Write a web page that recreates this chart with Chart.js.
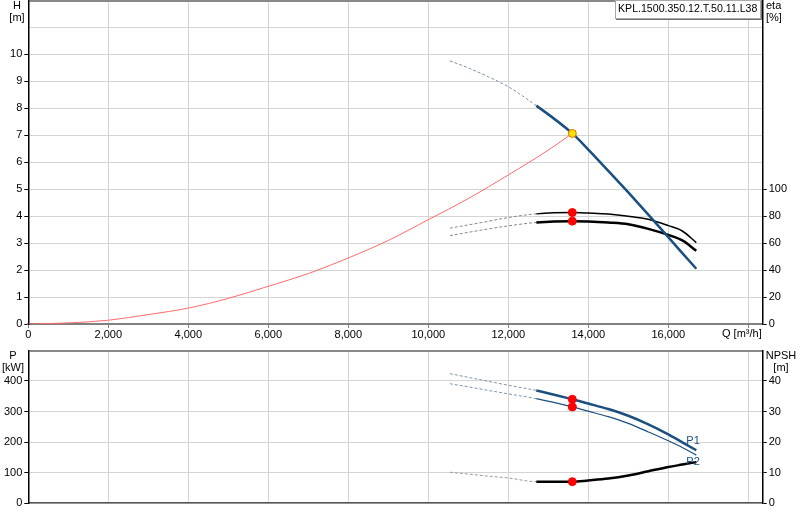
<!DOCTYPE html>
<html>
<head>
<meta charset="utf-8">
<script src="https://cdn.jsdelivr.net/npm/chart.js"></script>
<style>
  body { margin: 0; background: #fff; }
  canvas { position: absolute; left: 0; }
  #topChart { top: 0; }
  #bottomChart { top: 345px; }
</style>
</head>
<body>
<canvas id="topChart" width="800" height="345"></canvas>
<canvas id="bottomChart" width="800" height="175"></canvas>
<script>
    // flow points shared by the pump curves (m3/h)
    var qPump = [10540, 11000, 11500, 12000, 12700, 13600, 14000, 14500, 15000, 15500, 16000, 16350, 16700];
    var head = [9.76, 9.50, 9.17, 8.80, 8.10, 7.07, 6.47, 5.68, 4.88, 4.06, 3.22, 2.63, 2.05];
    var etaUpper = [71.1, 73.5, 76.2, 79.0, 81.7, 82.7, 82.3, 81.6, 80.0, 77.7, 73.0, 69.0, 60.4];
    var etaLower = [65.6, 68.0, 70.5, 72.8, 75.3, 76.3, 76.1, 75.3, 74.0, 70.6, 66.1, 62.0, 54.3];
    var powerP1 = [424, 412, 399, 386, 369, 340, 326, 308, 286, 258, 225, 199, 173];
    var powerP2 = [391, 381, 369, 358, 342, 315, 301, 283, 261, 233, 204, 182, 157];
    var npsh = [10.1, 9.5, 8.8, 8.2, 7.0, 7.0, 7.4, 8.0, 9.0, 10.4, 11.8, 12.6, 13.4];

    // system curve
    var qSystem = [0, 1000, 2000, 3000, 4000, 5000, 6000, 7000, 8000, 9000, 10000, 11000, 12000, 13000, 13600];
    var hSystem = [0, 0.04, 0.14, 0.35, 0.59, 0.95, 1.40, 1.87, 2.45, 3.10, 3.87, 4.65, 5.53, 6.45, 7.07];

    // duty point
    var qDuty = 13600;
    var dutyHead = 7.07;
    var dutyEta = [82.7, 76.3];
    var dutyPower = [340, 315];
    var dutyNpsh = 7.0;

    var xTicks = [0, 2000, 4000, 6000, 8000, 10000, 12000, 14000, 16000, 18000];
    var pumpName = 'KPL.1500.350.12.T.50.11.L38';

    var FONT = '"Liberation Sans", Arial, sans-serif';
    var solidFrom = 12700;
    var qMax = 18360;

    Chart.defaults.font.family = FONT;
    Chart.defaults.font.size = 11;
    Chart.defaults.color = '#000';

    function pts(xs, ys) {
        return xs.map(function (x, i) { return { x: x, y: ys[i] }; });
    }

    function curve(ys, axis, color, width, dashColor) {
        return {
            data: pts(qPump, ys),
            yAxisID: axis,
            borderColor: color,
            borderWidth: width,
            pointRadius: 0,
            showLine: true,
            cubicInterpolationMode: 'monotone',
            segment: {
                borderDash: function (c) { return c.p1.parsed.x <= solidFrom ? [3, 2] : undefined; },
                borderWidth: function (c) { return c.p1.parsed.x <= solidFrom ? 1 : width; },
                borderColor: function (c) { return c.p1.parsed.x <= solidFrom ? dashColor : color; }
            }
        };
    }

    function dot(y, axis, fill, border) {
        return {
            data: [{ x: qDuty, y: y }],
            yAxisID: axis,
            pointRadius: 4,
            pointBackgroundColor: fill,
            pointBorderColor: border || fill,
            pointBorderWidth: 1,
            showLine: false
        };
    }

    // fixed axis sizes, no extra padding for half labels
    function fixWidth(w) {
        return function (s) { s.width = w; s.paddingTop = 0; s.paddingBottom = 0; };
    }
    function fixHeight(h) {
        return function (s) { s.height = h; s.paddingLeft = 0; s.paddingRight = 0; };
    }
    function xTickList(s) {
        s.ticks = xTicks.map(function (v) { return { value: v }; });
    }

    var textPlugin = {
        id: 'texts',
        afterDraw: function (chart) {
            var ctx = chart.ctx;
            var items = chart.options.plugins.texts.items;
            ctx.save();
            ctx.textBaseline = 'middle';
            items.forEach(function (t) {
                ctx.font = (t.size || 11) + 'px ' + FONT;
                if (t.box) {
                    ctx.fillStyle = '#fff';
                    ctx.fillRect(t.box[0], t.box[1], t.box[2], t.box[3]);
                    ctx.strokeStyle = '#a8a8a8';
                    ctx.lineWidth = 1;
                    ctx.strokeRect(t.box[0] + 0.5, t.box[1] + 0.5, t.box[2], t.box[3]);
                    ctx.strokeStyle = '#707070';
                    ctx.beginPath();
                    ctx.moveTo(t.box[0] + 1, t.box[1] + t.box[3] + 1.5);
                    ctx.lineTo(t.box[0] + t.box[2] + 1.5, t.box[1] + t.box[3] + 1.5);
                    ctx.lineTo(t.box[0] + t.box[2] + 1.5, t.box[1] + 1);
                    ctx.stroke();
                }
                ctx.fillStyle = t.color || '#000';
                ctx.textAlign = t.align || 'center';
                var x = t.x, y = t.y;
                if (t.q !== undefined) {
                    x = chart.scales.x.getPixelForValue(t.q);
                    y = chart.scales[t.axis].getPixelForValue(t.v);
                }
                ctx.fillText(t.text, x, y);
            });
            ctx.restore();
        }
    };

    new Chart(document.getElementById('topChart').getContext('2d'), {
        type: 'scatter',
        data: {
            datasets: [
                dot(dutyEta[0], 'eta', '#ff0000'),
                dot(dutyEta[1], 'eta', '#ff0000'),
                dot(dutyHead, 'h', '#ffe000', '#e07000'),
                curve(head, 'h', '#1b4f80', 2.5, '#7f93aa'),
                curve(etaUpper, 'eta', '#000', 1.5, '#888'),
                curve(etaLower, 'eta', '#000', 2.5, '#888'),
                {
                    data: pts(qSystem, hSystem),
                    yAxisID: 'h',
                    borderColor: '#ff6b6b',
                    borderWidth: 1,
                    pointRadius: 0,
                    showLine: true,
                    cubicInterpolationMode: 'monotone'
                }
            ]
        },
        options: {
            responsive: false,
            animation: false,
            layout: { autoPadding: false, padding: { top: 0.5, left: 0, right: 0, bottom: 0 } },
            plugins: {
                legend: { display: false },
                tooltip: { enabled: false },
                texts: {
                    items: [
                        { text: 'H', x: 17, y: 6 },
                        { text: '[m]', x: 17, y: 18 },
                        { text: 'eta', x: 766, y: 6, align: 'left' },
                        { text: '[%]', x: 766, y: 18, align: 'left' },
                        { text: 'Q [m\u00b3/h]', x: 722, y: 334, align: 'left' },
                        { text: pumpName, x: 618, y: 9, align: 'left', size: 10.6, box: [615, 0, 145, 18] }
                    ]
                }
            },
            scales: {
                x: {
                    type: 'linear',
                    min: 0,
                    max: qMax,
                    afterFit: fixHeight(21),
                    afterBuildTicks: xTickList,
                    ticks: {
                        padding: 0,
                        maxRotation: 0,
                        autoSkip: false,
                        callback: function (v) { return v > 16000 ? '' : v.toLocaleString('en-US'); }
                    },
                    grid: { color: '#d4d4d4', lineWidth: 1, tickLength: 4, tickColor: '#808080' },
                    border: { color: '#808080', width: 2 }
                },
                h: {
                    position: 'left',
                    min: 0,
                    max: 12,
                    afterFit: fixWidth(28.3),
                    ticks: {
                        stepSize: 1,
                        padding: 2,
                        callback: function (v) { return v <= 10 ? v : ''; }
                    },
                    grid: {
                        color: function (c) { return c.tick && c.tick.value === 12 ? '#888' : '#d4d4d4'; },
                        lineWidth: function (c) { return c.tick && c.tick.value === 12 ? 2 : 1; },
                        tickLength: 4,
                        tickColor: function (c) { return c.tick && c.tick.value <= 10 ? '#000' : 'rgba(0,0,0,0)'; }
                    },
                    border: { color: '#000', width: 1.5 }
                },
                eta: {
                    position: 'right',
                    min: 0,
                    max: 240,
                    afterFit: fixWidth(37.3),
                    ticks: {
                        stepSize: 20,
                        padding: 2,
                        callback: function (v) { return v <= 100 ? v : ''; }
                    },
                    grid: {
                        drawOnChartArea: false,
                        tickLength: 4,
                        tickColor: function (c) { return c.tick && c.tick.value <= 100 ? '#000' : 'rgba(0,0,0,0)'; }
                    },
                    border: { color: '#000', width: 1.5 }
                }
            }
        },
        plugins: [textPlugin]
    });

    new Chart(document.getElementById('bottomChart').getContext('2d'), {
        type: 'scatter',
        data: {
            datasets: [
                dot(dutyPower[0], 'p', '#ff0000'),
                dot(dutyPower[1], 'p', '#ff0000'),
                dot(dutyNpsh, 'npsh', '#ff0000'),
                curve(powerP1, 'p', '#1b4f80', 2.5, '#7f93aa'),
                curve(powerP2, 'p', '#1b4f80', 1.2, '#7f93aa'),
                curve(npsh, 'npsh', '#000', 2.5, '#999')
            ]
        },
        options: {
            responsive: false,
            animation: false,
            layout: { autoPadding: false, padding: { top: 5.5, left: 0, right: 0, bottom: 0 } },
            plugins: {
                legend: { display: false },
                tooltip: { enabled: false },
                texts: {
                    items: [
                        { text: 'P', x: 13, y: 11 },
                        { text: '[kW]', x: 13, y: 23 },
                        { text: 'NPSH', x: 781, y: 11 },
                        { text: '[m]', x: 781, y: 23 },
                        { text: 'P1', q: 16450, v: 202, axis: 'p', align: 'left', color: '#1b4f80' },
                        { text: 'P2', q: 16450, v: 135, axis: 'p', align: 'left', color: '#1b4f80' }
                    ]
                }
            },
            scales: {
                x: {
                    type: 'linear',
                    min: 0,
                    max: qMax,
                    afterFit: fixHeight(17),
                    afterBuildTicks: xTickList,
                    ticks: { display: false },
                    grid: { color: '#d4d4d4', lineWidth: 1, tickLength: 0 },
                    border: { color: '#555', width: 1.5 }
                },
                p: {
                    position: 'left',
                    min: 0,
                    max: 500,
                    afterFit: fixWidth(28.3),
                    ticks: {
                        stepSize: 100,
                        padding: 2,
                        callback: function (v) { return v <= 400 ? v : ''; }
                    },
                    grid: {
                        color: function (c) { return c.tick && c.tick.value === 500 ? '#888' : '#d4d4d4'; },
                        lineWidth: function (c) { return c.tick && c.tick.value === 500 ? 2 : 1; },
                        tickLength: 4,
                        tickColor: function (c) { return c.tick && c.tick.value <= 400 ? '#000' : 'rgba(0,0,0,0)'; }
                    },
                    border: { color: '#000', width: 1.5 }
                },
                npsh: {
                    position: 'right',
                    min: 0,
                    max: 50,
                    afterFit: fixWidth(37.3),
                    ticks: {
                        stepSize: 10,
                        padding: 2,
                        callback: function (v) { return v <= 40 ? v : ''; }
                    },
                    grid: {
                        drawOnChartArea: false,
                        tickLength: 4,
                        tickColor: function (c) { return c.tick && c.tick.value <= 40 ? '#000' : 'rgba(0,0,0,0)'; }
                    },
                    border: { color: '#000', width: 1.5 }
                }
            }
        },
        plugins: [textPlugin]
    });
</script>
</body>
</html>
